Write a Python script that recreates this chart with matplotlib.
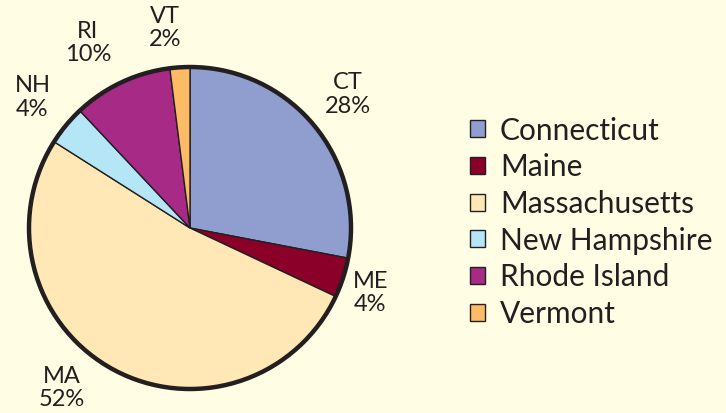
import numpy as np
import matplotlib.pyplot as plt
from matplotlib.patches import Circle

# share of total, New England states
states = ['Connecticut', 'Maine', 'Massachusetts', 'New Hampshire', 'Rhode Island', 'Vermont']
abbrev = ['CT', 'ME', 'MA', 'NH', 'RI', 'VT']
shares = [28, 4, 52, 4, 10, 2]
colors = ['#8F9ECF', '#8B0029', '#FFE8B5', '#B5E6F8', '#A62A86', '#FDBB65']

# small pixel nudges for the outside labels (layout only)
nudge = {'CT': (0, 3), 'ME': (-14, -2), 'MA': (-30, 19), 'NH': (0, 0), 'RI': (-15, 0), 'VT': (-12, -4)}

BG = '#FFFDE3'
INK = '#231F20'

plt.rcParams['font.family'] = ['Lato', 'DejaVu Sans']

fig = plt.figure(figsize=(7.26, 4.13), dpi=100, facecolor=BG)
ax = fig.add_axes([0, 0, 1, 1])
ax.set_facecolor(BG)

cx, cy, r = 190, 185, 161
wedges, _ = ax.pie(shares, colors=colors, startangle=90, counterclock=False,
                   center=(cx, cy), radius=r,
                   wedgeprops=dict(edgecolor=INK, linewidth=1.0))
ax.add_patch(Circle((cx, cy), r, fill=False, edgecolor=INK, linewidth=3.2))

# labels sit outside the pie at each wedge's mid angle
for w, ab, s in zip(wedges, abbrev, shares):
    mid = np.deg2rad((w.theta1 + w.theta2) / 2)
    dx, dy = nudge[ab]
    x = cx + 1.27 * r * np.cos(mid) + dx
    y = cy + 1.27 * r * np.sin(mid) + dy
    ax.text(x, y, f'{ab}\n{s}%', ha='center', va='center', fontsize=17,
            color=INK, linespacing=1.15)

leg = fig.legend(wedges, states, loc='center left', bbox_to_anchor=(0.627, 0.462),
                 frameon=False, fontsize=21.5, handlelength=0.5, handleheight=0.5,
                 handletextpad=0.5, labelspacing=0.29, borderpad=0, labelcolor=INK)

ax.set_xlim(0, 726)
ax.set_ylim(0, 413)
ax.set_aspect('equal')
ax.axis('off')

fig.savefig('out.png', dpi=100, facecolor=BG)
